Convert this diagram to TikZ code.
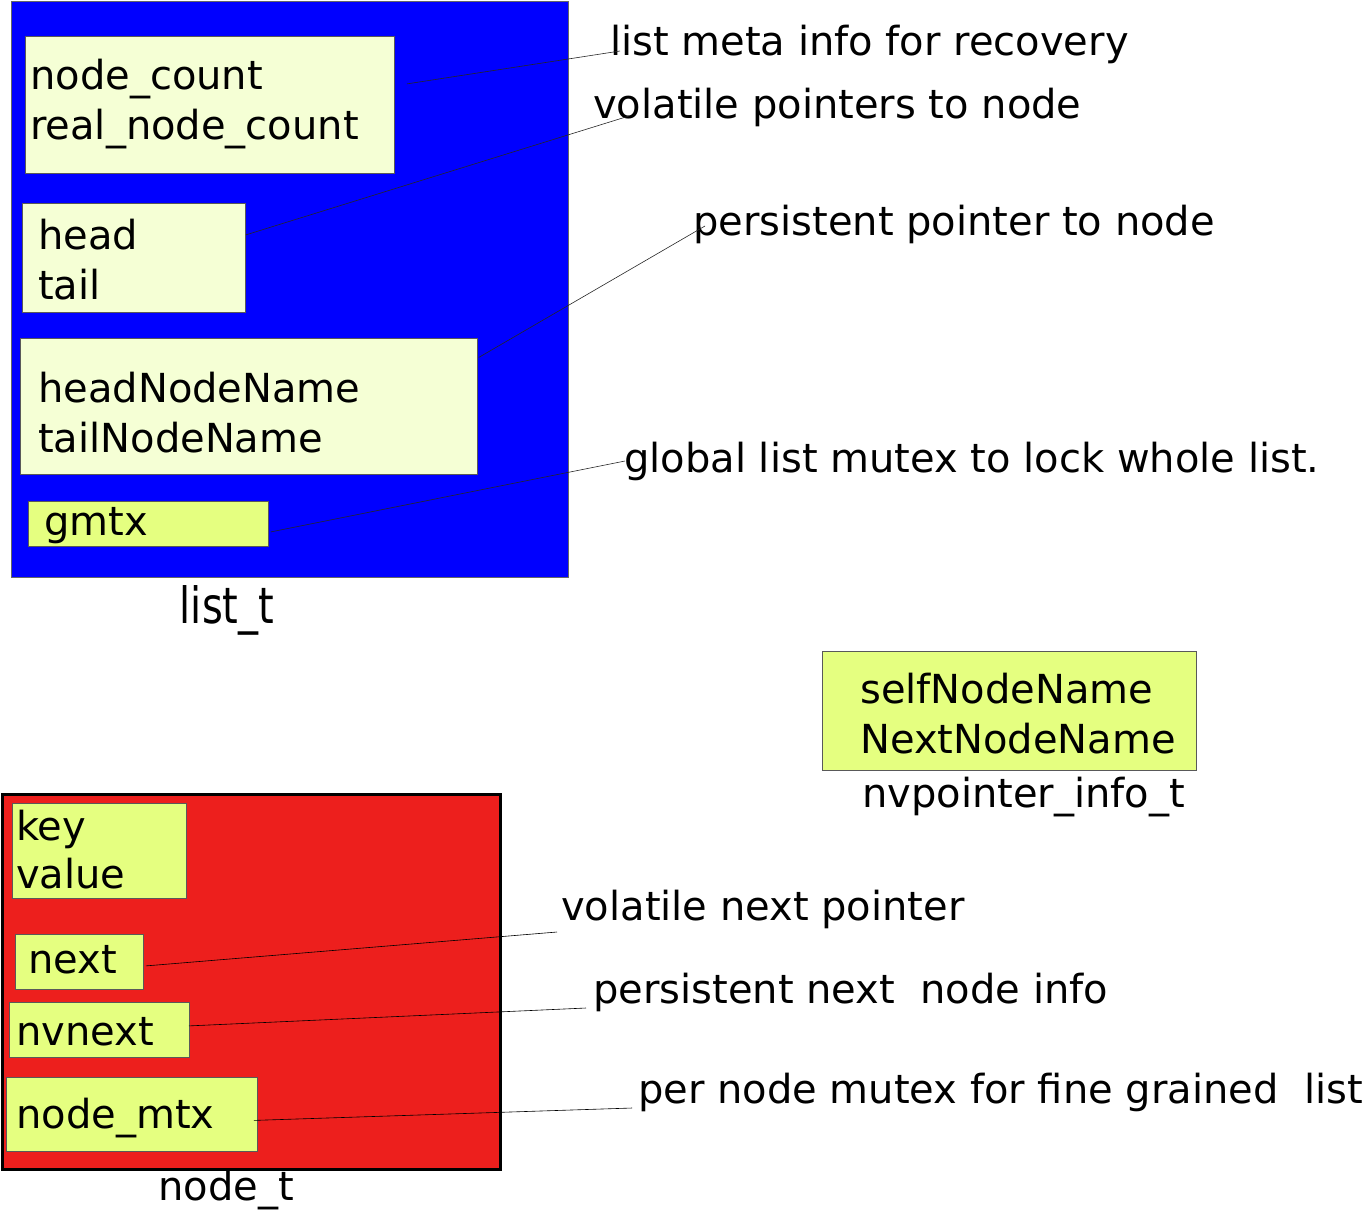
\documentclass[tikz,border=0pt]{standalone}
\usepackage{fontspec}
\setmainfont{DejaVu Sans}
\usetikzlibrary{positioning}

\definecolor{listblue}{RGB}{0,0,255}
\definecolor{nodered}{RGB}{237,31,29}
\definecolor{paleyellow}{RGB}{245,255,213}
\definecolor{limeyellow}{RGB}{229,255,128}

\tikzset{
  box/.style={anchor=north west, inner sep=0pt, line width=0.8pt, draw=black!65},
  pale/.style={box, fill=paleyellow},
  lime/.style={box, fill=limeyellow},
  txt/.style={anchor=base west, inner sep=0pt},
  lead/.style={draw=black!85, line width=0.6pt}
}

\begin{document}
\begin{tikzpicture}[x=1pt, y=-1pt, font=\fontsize{40}{50}\selectfont]
  \useasboundingbox (0,0) rectangle (1362,1211);

  % list_t
  \node[box, fill=listblue, draw=black!60, line width=1pt,
        minimum width=557, minimum height=576] (list) at (11,1) {};
  \node[pale, minimum width=369, minimum height=137] (metabox) at (25,36) {};
  \node[txt] (count) at (30,89) {node\_count};
  \node[txt] (realcount) at (30,139) {real\_node\_count};
  \node[pale, minimum width=223, minimum height=109] (ptrbox) at (22,203) {};
  \node[txt] (head) at (38,249) {head};
  \node[txt] (tail) at (38,299) {tail};
  \node[pale, minimum width=457, minimum height=136] (namebox) at (20,338) {};
  \node[txt] (headname) at (38,402) {headNodeName};
  \node[txt] (tailname) at (38,452) {tailNodeName};
  \node[lime, minimum width=240, minimum height=45] (mtxbox) at (28,501) {};
  \node[txt] (gmtx) at (44,535) {gmtx};
  \node[anchor=base, inner sep=0pt] (listname) at (227,623)
    {\fontsize{50}{60}\selectfont\scalebox{0.8}[1]{list\_t}};

  % node_t
  \node[box, fill=nodered, draw=black, line width=3pt,
        minimum width=498, minimum height=375] (nodet) at (1,793) {};
  \node[lime, minimum width=174, minimum height=95] (kvbox) at (12,803) {};
  \node[txt] (key) at (16,840) {key};
  \node[txt] (value) at (16,888) {value};
  \node[lime, minimum width=128, minimum height=55] (nextbox) at (15,934) {};
  \node[txt] (next) at (28,973) {next};
  \node[lime, minimum width=180, minimum height=55] (nvbox) at (9,1002) {};
  \node[txt] (nvnext) at (16,1045) {nvnext};
  \node[lime, minimum width=251, minimum height=74] (nmtxbox) at (6,1077) {};
  \node[txt] (nodemtx) at (16,1128) {node\_mtx};
  \node[anchor=base, inner sep=0pt] (nodename) at (226,1200) {node\_t};

  % nvpointer_info_t
  \node[lime, minimum width=374, minimum height=119] (infobox) at (822,651) {};
  \node[txt] (selfname) at (860,703) {selfNodeName};
  \node[txt] (nextname) at (860,753) {NextNodeName};
  \node[txt] (infoname) at (862,807) {nvpointer\_info\_t};

  % notes
  \node[txt] (lmeta) at (610,55) {list meta info for recovery};
  \node[txt] (lvol) at (593,118) {volatile pointers to node};
  \node[txt] (lpers) at (693,235) {persistent pointer to node};
  \node[txt] (lglob) at (624,472) {global list mutex to lock whole list.};
  \node[txt] (lnext) at (561,920) {volatile next pointer};
  \node[txt] (lnvnext) at (593,1003) {persistent next~~node info};
  \node[txt] (lnmtx) at (638,1103) {per node mutex for fine grained~~list};

  % leader lines
  \draw[lead] ([shift={(12,-21)}]metabox.east) -- ([shift={(10,-4)}]lmeta.base west);
  \draw[lead] ([shift={(0,-23)}]ptrbox.east) -- ([shift={(36,-2)}]lvol.base west);
  \draw[lead] ([shift={(1,-49)}]namebox.east) -- ([shift={(12,-9)}]lpers.base west);
  \draw[lead] ([shift={(2,8)}]mtxbox.east) -- ([shift={(1,-11)}]lglob.base west);
  \draw[lead, draw=black] ([shift={(2,4)}]nextbox.east) -- ([shift={(-4,12)}]lnext.base west);
  \draw[lead, draw=black] ([shift={(-1,-4)}]nvbox.east) -- ([shift={(-7,5)}]lnvnext.base west);
  \draw[lead, draw=black] ([shift={(-4,6)}]nmtxbox.east) -- ([shift={(-6,5)}]lnmtx.base west);
\end{tikzpicture}
\end{document}
